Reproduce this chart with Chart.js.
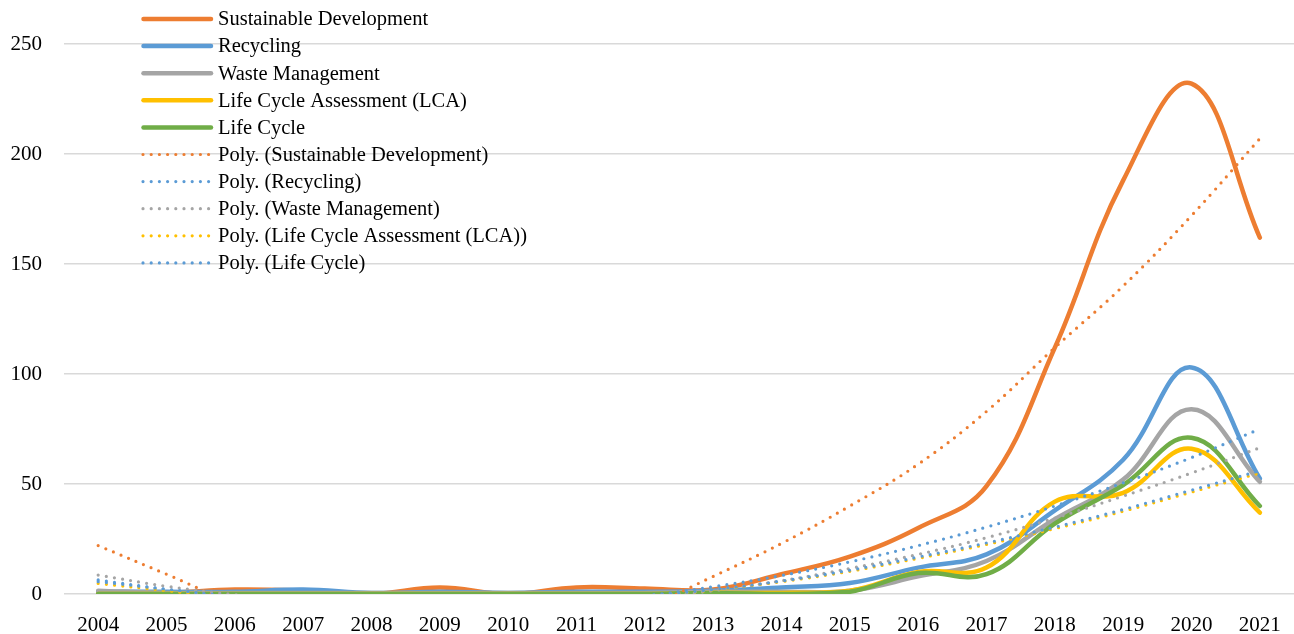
<!DOCTYPE html>
<html>
<head>
<meta charset="utf-8">
<script src="https://cdn.jsdelivr.net/npm/chart.js@4.4.1/dist/chart.umd.min.js"></script>
<style>
html, body { margin: 0; padding: 0; background: #fff; }
#wrap { position: relative; width: 1294px; height: 634px; }
</style>
</head>
<body>
<div id="wrap"><canvas id="line-chart"></canvas></div>
<script>
// x axis
const years = ["2004","2005","2006","2007","2008","2009","2010","2011","2012",
               "2013","2014","2015","2016","2017","2018","2019","2020","2021"];

// series
const sustainableDev = [0.5, 0.5, 2, 1.5, 0, 3, 0, 3, 2.5, 2, 9, 17, 30, 49, 112, 188, 232, 162];
const recycling      = [1, 1, 1, 2, 0.5, 1, 0.5, 1, 1, 1.5, 3, 5, 12, 18, 38, 61, 103, 52.5];
const wasteMgmt      = [1.5, 0.5, 0.5, 0.5, 0.5, 0.5, 0.5, 0.5, 0.5, 1, 1, 1.5, 8, 15, 34, 52, 84, 51];
const lcaSeries      = [0, 0, 0, 0, 0, 0, 0, 0, 0, 0.5, 0.5, 1.5, 10, 12, 42, 46, 66, 37];
const lifeCycle      = [0, 0, 0, 0, 0, 0, 0, 0, 0, 0.5, 0, 1, 9.5, 9, 32, 49.5, 71, 40];

// poly trendlines (below 0 they are cut off by the axis)
const polySustainable = [22, 9, -4, -12, -17, -19, -18, -14, -6, 8, 23, 40, 59, 83, 112, 140, 172, 207];
const polyRecycling   = [6.4, 2, -2, -4.5, -5.9, -6.3, -5.5, -3.7, -0.8, 3.3, 8.4, 14.6, 22, 30.4, 40, 50.5, 62, 75];
const polyWaste       = [8.6, 3.5, -0.3, -3.2, -5, -5.8, -5.5, -4.2, -1.9, 1.5, 6, 11.6, 18, 25.6, 34.5, 44.5, 55, 66.5];
const polyLca         = [4.8, 1.5, -1.7, -3.7, -4.9, -5.2, -4.7, -3.3, -1, 1.8, 5.6, 10.3, 16.2, 22.5, 29.7, 37.6, 46.3, 55];
const polyLifeCycle   = [5.6, 2.2, -1.2, -3.3, -4.6, -5, -4.6, -3.2, -0.9, 2, 5.9, 10.8, 16.8, 23.2, 30.4, 38.4, 47.2, 56];

// y axis
const yMin = 0, yMax = 250, yStep = 50;

const FONT = '"Liberation Serif", "Times New Roman", serif';

function solid(label, data, color, order) {
    return { label, data, borderColor: color, borderWidth: 4.5, fill: false,
             tension: 0.4, pointRadius: 0, borderCapStyle: 'round',
             borderJoinStyle: 'round', order };
}
function dotted(label, data, color, order) {
    return { label, data, borderColor: color, borderWidth: 3.2, fill: false,
             tension: 0.4, pointRadius: 0, borderCapStyle: 'round',
             borderDash: [0, 8.2], order };
}

// legend drawn as a column inside the plot, like the original
const columnLegend = {
    id: 'columnLegend',
    afterDraw(chart) {
        const ctx = chart.ctx;
        ctx.save();
        ctx.font = '20.5px ' + FONT;
        ctx.textBaseline = 'middle';
        ctx.textAlign = 'left';
        chart.data.datasets.forEach((ds, i) => {
            const y = 19 + i * 27.1;
            ctx.beginPath();
            ctx.strokeStyle = ds.borderColor;
            ctx.lineWidth = ds.borderWidth;
            ctx.lineCap = 'round';
            ctx.setLineDash(ds.borderDash || []);
            ctx.moveTo(ds.borderDash ? 143 : 143.5, y);
            ctx.lineTo(211, y);
            ctx.stroke();
            ctx.setLineDash([]);
            ctx.fillStyle = '#000';
            ctx.fillText(ds.label, 218, y + 1);
        });
        ctx.restore();
    }
};

const chart = new Chart(document.getElementById("line-chart"), {
    type: 'line',
    data: {
        labels: years,
        datasets: [
            solid("Sustainable Development", sustainableDev, "#ED7D31", 14),
            solid("Recycling", recycling, "#5B9BD5", 13),
            solid("Waste Management", wasteMgmt, "#A5A5A5", 12),
            solid("Life Cycle Assessment (LCA)", lcaSeries, "#FFC000", 11),
            solid("Life Cycle", lifeCycle, "#70AD47", 10),
            dotted("Poly. (Sustainable Development)", polySustainable, "#ED7D31", 4),
            dotted("Poly. (Recycling)", polyRecycling, "#5B9BD5", 3),
            dotted("Poly. (Waste Management)", polyWaste, "#A5A5A5", 2),
            dotted("Poly. (Life Cycle Assessment (LCA))", polyLca, "#FFC000", 1),
            dotted("Poly. (Life Cycle)", polyLifeCycle, "#5B9BD5", 0)
        ]
    },
    options: {
        responsive: true,
        maintainAspectRatio: false,
        animation: false,
        layout: { padding: { top: 44, right: 0, left: 0, bottom: 0 } },
        plugins: {
            legend: { display: false },
            tooltip: { enabled: false }
        },
        scales: {
            x: {
                offset: true,
                grid: { display: false },
                border: { display: false },
                ticks: { color: '#000', font: { family: FONT, size: 21 }, padding: 11,
                         maxRotation: 0, autoSkip: false },
                afterFit(scale) { scale.height = 40; }
            },
            y: {
                min: yMin,
                max: yMax,
                grid: { color: '#D9D9D9', lineWidth: 1.5, drawTicks: false },
                border: { display: false },
                ticks: { stepSize: yStep, color: '#000', font: { family: FONT, size: 21 }, padding: 22 },
                afterFit(scale) { scale.width = 64; }
            }
        }
    },
    plugins: [columnLegend]
});
</script>
</body>
</html>
